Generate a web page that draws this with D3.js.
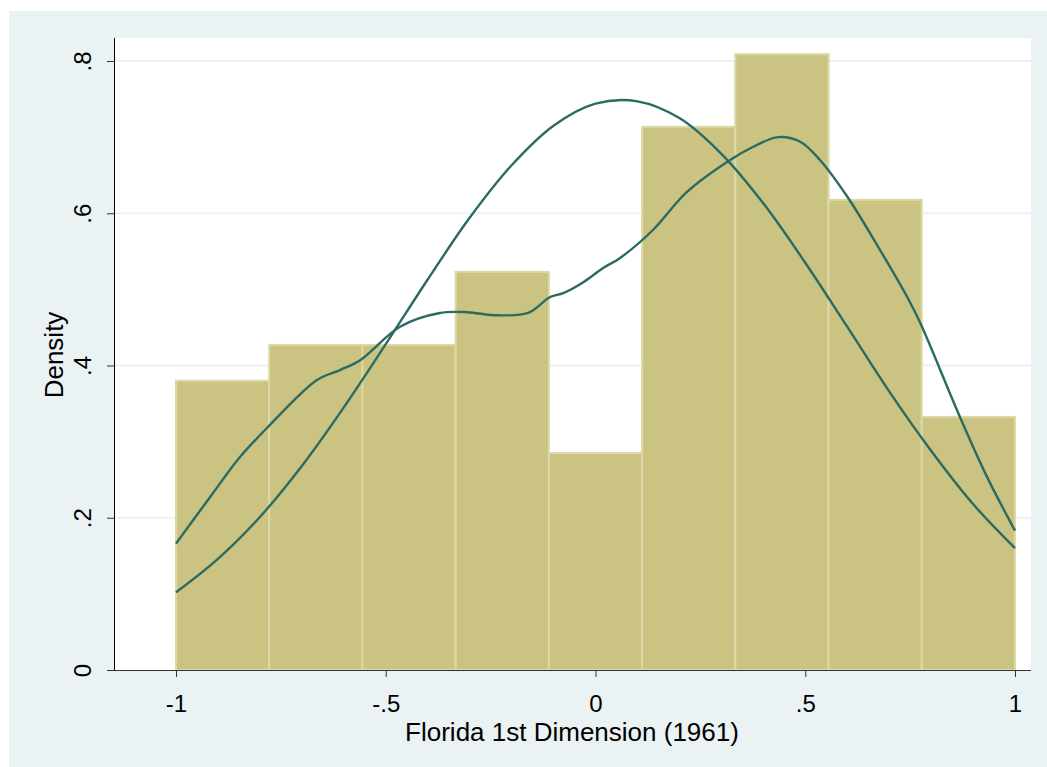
<!DOCTYPE html>
<html>
<head>
<meta charset="utf-8">
<script src="https://cdn.jsdelivr.net/npm/d3@7"></script>
<style>
  html, body { margin: 0; padding: 0; background: #ffffff; }
  svg { display: block; font-family: "Liberation Sans", Arial, sans-serif; }
</style>
</head>
<body>
<script>
// histogram bins (9 bins from -1 to 1) and their densities
const binEdges = [-1, -0.7778, -0.5556, -0.3333, -0.1111, 0.1111, 0.3333, 0.5556, 0.7778, 1];
const binDensity = [0.380, 0.427, 0.427, 0.523, 0.285, 0.7135, 0.809, 0.6176, 0.3325];

// kernel density estimate
const kernelX = [-1.0, -0.919, -0.847, -0.783, -0.664, -0.609, -0.561, -0.466, -0.371, -0.306, -0.235, -0.161, -0.108, -0.077, -0.030, 0.018, 0.058, 0.137, 0.218, 0.321, 0.375, 0.435, 0.488, 0.535, 0.600, 0.678, 0.743, 0.774, 0.869, 0.933, 1.0];
const kernelY = [0.166, 0.227, 0.280, 0.318, 0.381, 0.394, 0.407, 0.451, 0.469, 0.470, 0.466, 0.469, 0.490, 0.495, 0.509, 0.528, 0.541, 0.578, 0.628, 0.670, 0.687, 0.700, 0.694, 0.670, 0.622, 0.552, 0.490, 0.456, 0.332, 0.254, 0.183];

// normal density overlay
const normalX = [-1.0, -0.9, -0.8, -0.7, -0.6, -0.5, -0.4, -0.3, -0.2, -0.1, 0.0, 0.1, 0.2, 0.3, 0.4, 0.5, 0.6, 0.7, 0.8, 0.9, 1.0];
const normalY = [0.102, 0.146, 0.201, 0.268, 0.345, 0.428, 0.513, 0.594, 0.663, 0.715, 0.744, 0.747, 0.725, 0.678, 0.613, 0.535, 0.451, 0.366, 0.288, 0.218, 0.160];

const xTicks = [-1, -0.5, 0, 0.5, 1];
const yTicks = [0, 0.2, 0.4, 0.6, 0.8];
// Stata style labels: "-.5", ".8" (plain hyphen, no leading zero)
const fmt = d => String(d).replace(/^(-?)0\./, "$1.");

const width = 1047, height = 767;
const plot = { left: 114, right: 1031, top: 38, bottom: 670 };
const tickFont = 24, titleFont = 26;

const svg = d3.select("body").append("svg")
  .attr("width", width)
  .attr("height", height);

// outer graph region
svg.append("rect")
  .attr("x", 9).attr("y", 11)
  .attr("width", width - 9).attr("height", height - 11)
  .attr("fill", "#eaf2f3");

// plot region
svg.append("rect")
  .attr("x", plot.left).attr("y", plot.top)
  .attr("width", plot.right - plot.left).attr("height", plot.bottom - plot.top)
  .attr("fill", "#ffffff");

const x = d3.scaleLinear().domain([-1, 1]).range([176, 1015]);
const y = d3.scaleLinear().domain([0, 0.8]).range([670, 61]);

// grid lines
svg.append("g")
  .selectAll("line")
  .data(yTicks.filter(d => d > 0))
  .join("line")
  .attr("x1", plot.left).attr("x2", plot.right)
  .attr("y1", d => y(d)).attr("y2", d => y(d))
  .attr("stroke", "#eaf2f3")
  .attr("stroke-width", 2);

// histogram bars
svg.append("g")
  .selectAll("rect")
  .data(binDensity)
  .join("rect")
  .attr("x", (d, i) => x(binEdges[i]))
  .attr("y", d => y(d))
  .attr("width", (d, i) => x(binEdges[i + 1]) - x(binEdges[i]))
  .attr("height", d => y(0) - y(d))
  .attr("fill", "#cbc382")
  .attr("stroke", "#ddd8a6")
  .attr("stroke-width", 2);

// density lines
const densityLine = d3.line().x(d => x(d[0])).y(d => y(d[1])).curve(d3.curveCatmullRom);

svg.append("path")
  .datum(normalX.map((v, i) => [v, normalY[i]]))
  .attr("d", densityLine)
  .attr("fill", "none")
  .attr("stroke", "#2a6b63")
  .attr("stroke-width", 2.4);

svg.append("path")
  .datum(kernelX.map((v, i) => [v, kernelY[i]]))
  .attr("d", densityLine)
  .attr("fill", "none")
  .attr("stroke", "#2a6b63")
  .attr("stroke-width", 2.4);

// y axis
const yAxis = svg.append("g")
  .attr("transform", `translate(${plot.left},0)`)
  .call(d3.axisLeft(y).tickValues(yTicks).tickFormat(fmt).tickSize(7));
yAxis.select(".domain").attr("d", `M0.5,${plot.top}V${plot.bottom}`).attr("stroke", "#000");
yAxis.selectAll(".tick line").attr("stroke", "#333");
yAxis.selectAll(".tick text")
  .attr("font-size", tickFont)
  .attr("fill", "#000")
  .attr("text-anchor", "middle")
  .attr("dy", null)
  .attr("x", null)
  .attr("transform", "translate(-32,0) rotate(-90)")
  .attr("dominant-baseline", "central");

// x axis
const xAxis = svg.append("g")
  .attr("transform", `translate(0,${plot.bottom})`)
  .call(d3.axisBottom(x).tickValues(xTicks).tickFormat(fmt).tickSize(7).tickPadding(18));
xAxis.select(".domain").attr("d", `M${plot.left},0.5H${plot.right}`).attr("stroke", "#333");
xAxis.selectAll(".tick line").attr("stroke", "#333");
xAxis.selectAll(".tick text").attr("font-size", tickFont).attr("fill", "#000");

// axis titles
svg.append("text")
  .attr("x", 572).attr("y", 741)
  .attr("text-anchor", "middle")
  .attr("font-size", titleFont)
  .attr("fill", "#000")
  .text("Florida 1st Dimension (1961)");

svg.append("text")
  .attr("transform", "translate(63,355) rotate(-90)")
  .attr("text-anchor", "middle")
  .attr("font-size", titleFont)
  .attr("fill", "#000")
  .text("Density");
</script>
</body>
</html>
